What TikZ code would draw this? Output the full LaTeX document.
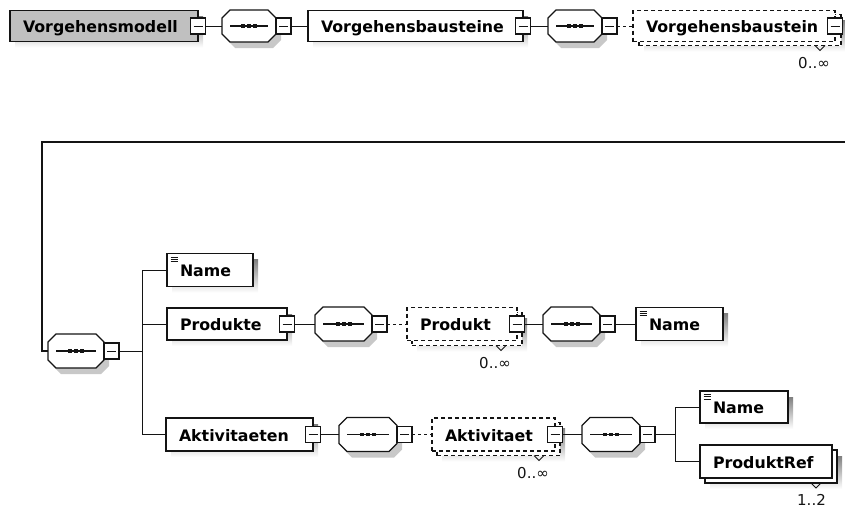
\documentclass[tikz,border=0pt]{standalone}
\usepackage{fontspec}
\setmainfont{DejaVu Sans}
\usetikzlibrary{backgrounds}
\hyphenpenalty=10000
\exhyphenpenalty=10000

\definecolor{ink}{RGB}{20,20,20}
\definecolor{shade}{RGB}{200,200,200}
\definecolor{typefill}{RGB}{192,192,192}

\tikzset{
  conn/.style={draw=ink, line width=1pt},
  optconn/.style={conn, dash pattern=on 3pt off 3pt},
  elem/.style={draw=ink, line width=1.3pt, fill=white, anchor=west,
    minimum height=#1, inner xsep=13pt, inner ysep=0pt, outer sep=0pt,
    align=left, text height=13.5pt, text depth=0pt,
    font=\fontsize{15.8}{18}\selectfont\bfseries},
  elem/.default=33pt,
  optional/.style={dash pattern=on 4pt off 3pt, line width=1.1pt},
  minus/.style={draw=ink, line width=1.1pt, fill=white, minimum width=15pt,
    minimum height=16pt, inner sep=0pt, outer sep=0pt,
    path picture={\draw[ink, line width=1pt]
      ([xshift=-4.5pt]path picture bounding box.center) --
      ([xshift=4.5pt]path picture bounding box.center);}},
  seqframe/.style={rectangle, anchor=west, minimum height=#1,
    inner sep=0pt, outer sep=0pt},
  seqframe/.default=34pt,
  occurs/.style={anchor=base east, inner sep=0pt, text=ink,
    font=\fontsize{15}{17}\selectfont},
}

% octagonal outline of a sequence compositor, optionally offset
\newcommand\seqpath[4]{%
  \path[#4]
    ([xshift=#2pt+8pt,yshift=#3pt]#1.north west) --
    ([xshift=#2pt-8pt,yshift=#3pt]#1.north east) --
    ([xshift=#2pt,yshift=#3pt-8pt]#1.north east) --
    ([xshift=#2pt,yshift=#3pt+8pt]#1.south east) --
    ([xshift=#2pt-8pt,yshift=#3pt]#1.south east) --
    ([xshift=#2pt+8pt,yshift=#3pt]#1.south west) --
    ([xshift=#2pt,yshift=#3pt+8pt]#1.south west) --
    ([xshift=#2pt,yshift=#3pt-8pt]#1.north west) -- cycle;}

% sequence compositor: shadow, octagon and the dotted-line glyph
\newcommand\seqmark[1]{%
  \begin{pgfonlayer}{background}\seqpath{#1}{5}{-6}{fill=shade}\end{pgfonlayer}
  \seqpath{#1}{0}{0}{draw=ink, line width=1.2pt, fill=white}
  \draw[ink, line width=1.1pt] ([xshift=8pt]#1.west) -- ([xshift=-8pt]#1.east);
  \foreach \d in {-6,0,6}
    \fill[ink] ([xshift=\d pt]#1.center) +(-2pt,-1.8pt) rectangle +(2pt,1.8pt);
}

% grey drop shadow behind a box
\newcommand\castshadow[1]{%
  \begin{pgfonlayer}{background}
    \fill[shade] ([xshift=5pt,yshift=-6pt]#1.north west) rectangle
                 ([xshift=5pt,yshift=-6pt]#1.south east);
  \end{pgfonlayer}}

% occurrence tick under a repeated element and its range
\newcommand\occursmark[3]{%
  \draw[ink, line width=0.8pt] ([xshift=-26pt]#1.south east) -- ++(5pt,-5pt) -- ++(5pt,5pt);
  \node[occurs] (#2) at ([xshift=-11pt,yshift=-22.5pt]#1.south east) {#3};}

% simple-content icon in the top left corner of a box
\newcommand\simpletype[1]{%
  \foreach \k in {3.5,5.8,8.1}
    \draw[ink, line width=0.7pt] ([xshift=3.5pt,yshift=-\k pt]#1.north west) -- ++(7pt,0pt);}

\begin{document}
\begin{tikzpicture}[x=1pt, y=-1pt]
\useasboundingbox (0,0) rectangle (845,509);

% ---------- top row ----------
\node[elem=31pt, fill=typefill, minimum width=188pt, text width=162pt] (vm) at (10,26) {Vorgehensmodell};
\castshadow{vm}
\node[minus] (vmm) at (vm.east) {};

\node[seqframe=32pt, minimum width=54pt] (s1) at (222,26) {};
\seqmark{s1}
\node[minus, anchor=west] (s1m) at (s1.east) {};

\node[elem=31pt, minimum width=215pt, text width=189pt] (vb) at (308,26) {Vorgehensbausteine};
\castshadow{vb}
\node[minus] (vbm) at (vb.east) {};

\node[seqframe=32pt, minimum width=54pt] (s2) at (548,26) {};
\seqmark{s2}
\node[minus, anchor=west] (s2m) at (s2.east) {};

\node[elem=31pt, optional, minimum width=202pt] (vbsB) at (639,30) {};
\castshadow{vbsB}
\node[elem=31pt, optional, minimum width=202pt, text width=176pt] (vbs) at (633,26) {Vorgehensbaustein};
\node[minus] (vbsm) at (vbs.east) {};
\occursmark{vbsB}{vbsN}{0..∞}

\draw[conn] (vmm.east) -- (s1.west);
\draw[conn] (s1m.east) -- (vb.west);
\draw[conn] (vbm.east) -- (s2.west);
\draw[optconn] (s2m.east) -- (vbs.west);

% ---------- content of the repeated element ----------
\node[seqframe, minimum width=56pt] (s3) at (48,351) {};
\seqmark{s3}
\node[minus, anchor=west] (s3m) at (s3.east) {};

\coordinate (wrapR) at (846,142);
\coordinate (wrapL) at (42,142);
\draw[conn, line width=1.3pt] (wrapR) -- (wrapL) |- (s3.west);

\coordinate (t1) at (142,351);
\node[elem, minimum width=86pt, text width=60pt] (n1) at (167,270) {Name};
\castshadow{n1}
\simpletype{n1}

\node[elem=32pt, minimum width=120pt, text width=94pt] (prod) at (167,324) {Produkte};
\castshadow{prod}
\node[minus] (prodm) at (prod.east) {};

\node[seqframe, minimum width=57pt] (s4) at (315,324) {};
\seqmark{s4}
\node[minus, anchor=west] (s4m) at (s4.east) {};

\node[elem, optional, minimum width=110pt] (prB) at (412,329) {};
\castshadow{prB}
\node[elem, optional, minimum width=110pt, text width=84pt] (pr) at (407,324) {Produkt};
\node[minus] (prm) at (pr.east) {};
\occursmark{prB}{prN}{0..∞}

\node[seqframe, minimum width=57pt] (s5) at (543,324) {};
\seqmark{s5}
\node[minus, anchor=west] (s5m) at (s5.east) {};

\node[elem, minimum width=87pt, text width=61pt] (n2) at (636,324) {Name};
\castshadow{n2}
\simpletype{n2}

\node[elem, minimum width=147pt, text width=121pt] (akt) at (166,434.5) {Aktivitaeten};
\castshadow{akt}
\node[minus] (aktm) at (akt.east) {};

\node[seqframe, minimum width=58pt] (s6) at (339,434.5) {};
\seqmark{s6}
\node[minus, anchor=west] (s6m) at (s6.east) {};

\node[elem, optional, minimum width=123pt] (akB) at (437,439) {};
\castshadow{akB}
\node[elem, optional, minimum width=123pt, text width=97pt] (ak) at (432,434.5) {Aktivitaet};
\node[minus] (akm) at (ak.east) {};
\occursmark{akB}{akN}{0..∞}

\node[seqframe, minimum width=58pt] (s7) at (582,434.5) {};
\seqmark{s7}
\node[minus, anchor=west] (s7m) at (s7.east) {};

\coordinate (t2) at (675,434.5);
\node[elem=32pt, minimum width=88pt, text width=62pt] (n3) at (700,407) {Name};
\castshadow{n3}
\simpletype{n3}

\node[elem, minimum width=132pt] (prefB) at (705,466.5) {};
\castshadow{prefB}
\node[elem, minimum width=132pt, text width=106pt] (pref) at (700,461.5) {ProduktRef};
\occursmark{prefB}{prefN}{1..2}

% connectors
\draw[conn] (s3m.east) -- (t1);
\draw[conn] (t1) |- (n1.west);
\draw[conn] (t1) |- (prod.west);
\draw[conn] (t1) |- (akt.west);
\draw[conn] (prodm.east) -- (s4.west);
\draw[optconn] (s4m.east) -- (pr.west);
\draw[conn] (prm.east) -- (s5.west);
\draw[conn] (s5m.east) -- (n2.west);
\draw[conn] (aktm.east) -- (s6.west);
\draw[optconn] (s6m.east) -- (ak.west);
\draw[conn] (akm.east) -- (s7.west);
\draw[conn] (s7m.east) -- (t2);
\draw[conn] (t2) |- (n3.west);
\draw[conn] (t2) |- (pref.west);
\end{tikzpicture}
\end{document}
